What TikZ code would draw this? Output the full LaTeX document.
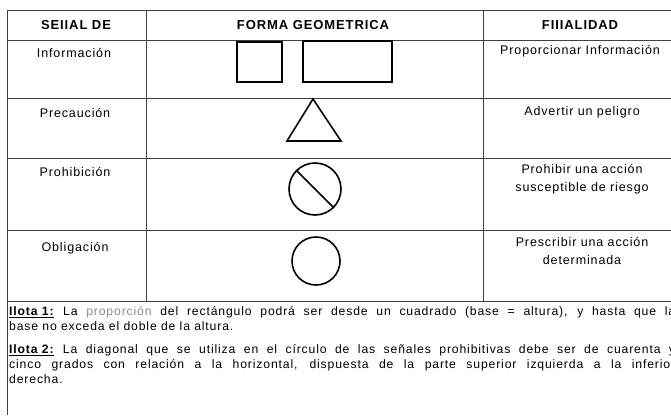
\documentclass[tikz,border=0pt]{standalone}
\usepackage{fontspec}
\setmainfont{Liberation Sans}[LetterSpace=7]
\usetikzlibrary{positioning}

\begin{document}
\begin{tikzpicture}[x=1pt, y=-1pt,
		rule/.style={line width=0.9pt, color=black!75},
		sign/.style={draw, line width=1.6pt, inner sep=0pt},
		head/.style={font=\bfseries\fontsize{13}{15}\selectfont, inner sep=0pt},
		cell/.style={font=\fontsize{12.5}{18}\selectfont, align=center, inner sep=0pt},
		note/.style={font=\fontsize{12.2}{15}\selectfont, align=justify, text width=666pt, inner sep=0pt, anchor=north west}]
	\useasboundingbox (0,0) rectangle (671,415);
	\clip (0,0) rectangle (671,415);

	% table rules
	\foreach \y in {10, 40, 98, 158, 230, 301}
		\draw[rule] (7,\y) -- (671,\y);
	\draw[rule] (7,10) -- (7,415);
	\draw[rule] (146,10) -- (146,301);
	\draw[rule] (483,10) -- (483,301);

	% header
	\node[head] (hsenal) at (76,25) {SEIIAL DE};
	\node[head] (hforma) at (313,25) {FORMA GEOMETRICA};
	\node[head] (hfin) at (580,25) {FIIIALIDAD};

	% first column
	\node[cell] (info) at (74,53) {Información};
	\node[cell] (prec) at (75,113) {Precaución};
	\node[cell] (prohib) at (75,172) {Prohibición};
	\node[cell] (oblig) at (75,248) {Obligación};

	% shapes
	\node[sign, line width=1.3pt, minimum width=45pt, minimum height=40pt] (square) at (259.5,62) {};
	\node[sign, minimum width=89pt, minimum height=41pt] (rect) at (347.5,61.5) {};
	\draw[line width=1.6pt, line join=miter] (313,99) -- (341,141) -- (287,141) -- cycle;
	\node[sign, circle, minimum size=52pt] (noway) at (315,189) {};
	\draw[line width=1.6pt] (noway.135) -- (noway.-45);
	\node[sign, circle, minimum size=48pt] (ring) at (316,261) {};

	% last column
	\node[cell] (finfo) at (580,51) {Proporcionar Información};
	\node[cell] (fprec) at (582,112) {Advertir un peligro};
	\node[cell] (fprohib) at (582,179) {Prohibir una acción\\susceptible de riesgo};
	\node[cell] (foblig) at (582,251) {Prescribir una acción\\determinada};

	% notes
	\node[note] (nota1) at (9,306) {\underline{\textbf{Ilota 1:}} La {\color{black!45}proporción} del rectángulo podrá ser desde un cuadrado (base = altura), y hasta que la\linebreak base no exceda el doble de la altura.};
	\node[note, below=14pt of nota1.south west, anchor=north west] (nota2) {\underline{\textbf{Ilota 2:}} La diagonal que se utiliza en el círculo de las señales prohibitivas debe ser de cuarenta y\linebreak cinco grados con relación a la horizontal, dispuesta de la parte superior izquierda a la inferior\linebreak derecha.};
\end{tikzpicture}
\end{document}
